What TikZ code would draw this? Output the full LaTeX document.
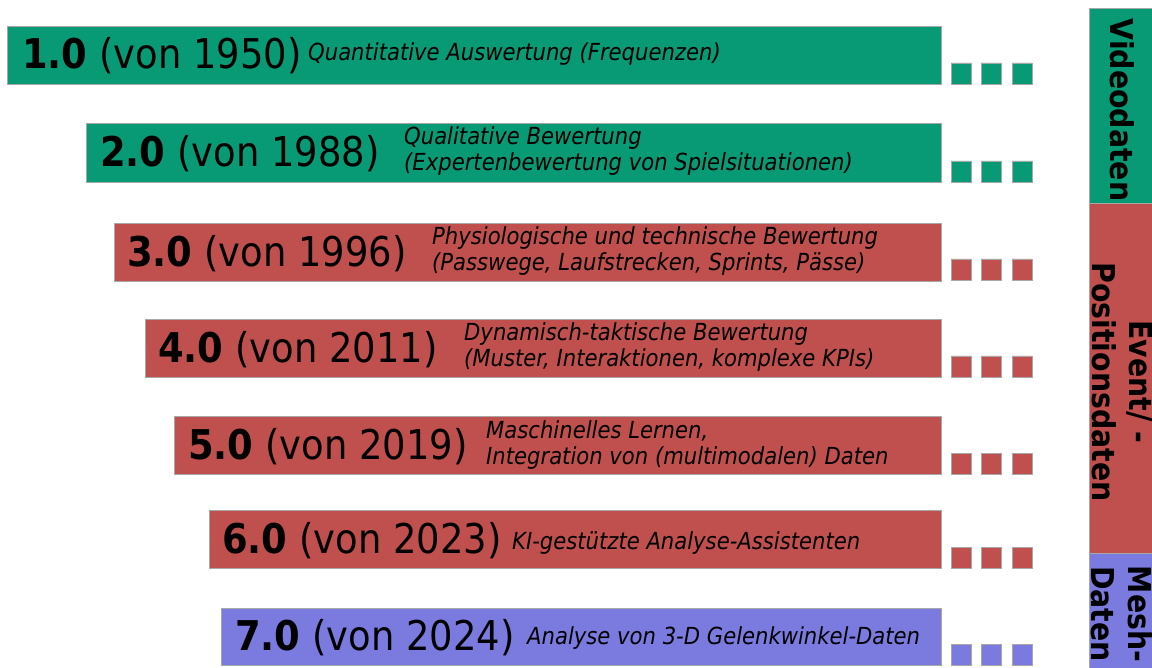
\documentclass[tikz,border=0pt]{standalone}
\usepackage{fontspec}
\setmainfont{DejaVu Sans}[FakeStretch=0.9]
\usepackage{tikz}

\definecolor{vidgreen}{HTML}{079A74}
\definecolor{posred}{HTML}{C0504D}
\definecolor{meshblue}{HTML}{7B7BDF}
\definecolor{edgegray}{HTML}{A8A8A8}

\tikzset{
  bar/.style={draw=edgegray, line width=0.8pt},
  num/.style={anchor=west, inner sep=0pt, font=\fontsize{41}{48}\selectfont},
  sub/.style={anchor=west, inner sep=0pt, align=left, font=\fontsize{23.5}{26}\selectfont\itshape},
  side/.style={rotate=-90, inner sep=0pt, align=center, font=\fontsize{31.5}{37}\selectfont\bfseries}
}

\begin{document}
\begin{tikzpicture}[x=1pt, y=-1pt]
    \useasboundingbox (0, 0) rectangle (1152, 668);
    % bars
    \draw[bar, fill=vidgreen] (7, 26) rectangle (941, 84);
    \draw[bar, fill=vidgreen] (86, 123) rectangle (941, 182);
    \draw[bar, fill=posred] (114, 223) rectangle (941, 281);
    \draw[bar, fill=posred] (145, 319) rectangle (941, 377);
    \draw[bar, fill=posred] (174, 416) rectangle (941, 474);
    \draw[bar, fill=posred] (209, 510) rectangle (941, 568);
    \draw[bar, fill=meshblue] (221, 608) rectangle (941, 665);
    % three little squares
    \draw[bar, fill=vidgreen] (951, 63) rectangle ++(20, 21) (981, 63) rectangle ++(20, 21) (1012, 63) rectangle ++(20, 21);
    \draw[bar, fill=vidgreen] (951, 161) rectangle ++(20, 21) (981, 161) rectangle ++(20, 21) (1012, 161) rectangle ++(20, 21);
    \draw[bar, fill=posred] (951, 259) rectangle ++(20, 21) (981, 259) rectangle ++(20, 21) (1012, 259) rectangle ++(20, 21);
    \draw[bar, fill=posred] (951, 356) rectangle ++(20, 21) (981, 356) rectangle ++(20, 21) (1012, 356) rectangle ++(20, 21);
    \draw[bar, fill=posred] (951, 453) rectangle ++(20, 21) (981, 453) rectangle ++(20, 21) (1012, 453) rectangle ++(20, 21);
    \draw[bar, fill=posred] (951, 547) rectangle ++(20, 21) (981, 547) rectangle ++(20, 21) (1012, 547) rectangle ++(20, 21);
    \draw[bar, fill=meshblue] (951, 644) rectangle ++(20, 21) (981, 644) rectangle ++(20, 21) (1012, 644) rectangle ++(20, 21);
    % versions
    \node[num] (v1) at (22, 56) {\textbf{1.0} (von 1950)};
    \node[num] (v2) at (100, 154) {\textbf{2.0} (von 1988)};
    \node[num] (v3) at (127, 254) {\textbf{3.0} (von 1996)};
    \node[num] (v4) at (158, 350) {\textbf{4.0} (von 2011)};
    \node[num] (v5) at (188, 447) {\textbf{5.0} (von 2019)};
    \node[num] (v6) at (222, 541) {\textbf{6.0} (von 2023)};
    \node[num] (v7) at (235, 638) {\textbf{7.0} (von 2024)};
    \node[sub] (d1) at (308, 54) {Quantitative Auswertung (Frequenzen)};
    \node[sub] (d2) at (404, 151) {Qualitative Bewertung\\(Expertenbewertung von Spielsituationen)};
    \node[sub] (d3) at (432, 251) {Physiologische und technische Bewertung\\(Passwege, Laufstrecken, Sprints, Pässe)};
    \node[sub] (d4) at (464, 347) {Dynamisch-taktische Bewertung\\(Muster, Interaktionen, komplexe KPIs)};
    \node[sub] (d5) at (486, 445) {Maschinelles Lernen,\\Integration von (multimodalen) Daten};
    \node[sub] (d6) at (512, 543) {KI-gestützte Analyse-Assistenten};
    \node[sub] (d7) at (527, 638) {Analyse von 3-D Gelenkwinkel-Daten};
    % data sources
    \draw[bar, fill=vidgreen] (1089, 8) rectangle (1153, 203);
    \draw[bar, fill=posred] (1089, 203) rectangle (1153, 553);
    \draw[bar, fill=meshblue] (1089, 553) rectangle (1153, 669);
    \node[side] (video) at (1122, 110) {Videodaten};
    \node[side] (event) at (1122, 382) {Event/ -\\Positionsdaten};
    \node[side] (mesh) at (1122, 614) {Mesh-\\Daten};
  \end{tikzpicture}
\end{document}
